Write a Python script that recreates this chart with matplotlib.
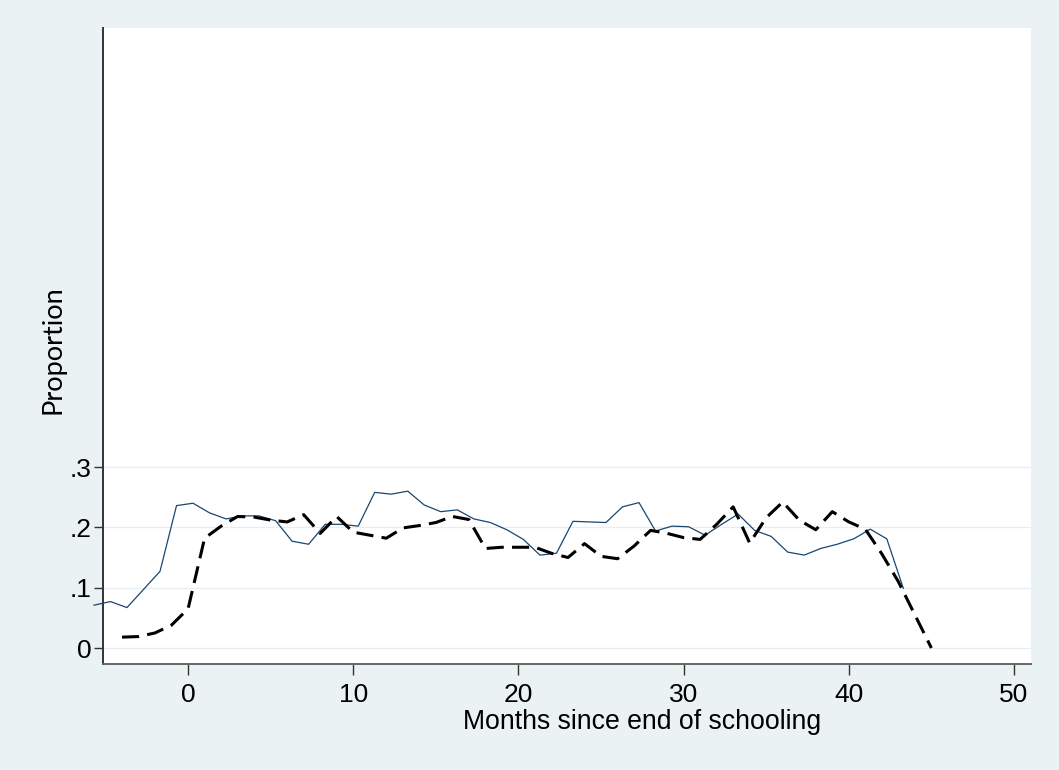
import matplotlib
matplotlib.use("Agg")
import matplotlib.pyplot as plt

# ---- data ----
months_solid = [-5.7, -4.7, -3.7, -2.7, -1.7, -0.7, 0.3, 1.3, 2.3, 3.3,
                4.3, 5.3, 6.3, 7.3, 8.3, 9.3, 10.3, 11.3, 12.3, 13.3,
                14.3, 15.3, 16.3, 17.3, 18.3, 19.3, 20.3, 21.3, 22.3, 23.3,
                24.3, 25.3, 26.3, 27.3, 28.3, 29.3, 30.3, 31.3, 32.3, 33.3,
                34.3, 35.3, 36.3, 37.3, 38.3, 39.3, 40.3, 41.3, 42.3, 43.3]
prop_solid = [0.071, 0.077, 0.067, 0.097, 0.127, 0.236, 0.240, 0.224, 0.214, 0.219,
              0.219, 0.211, 0.177, 0.172, 0.205, 0.205, 0.202, 0.258, 0.255, 0.260,
              0.237, 0.226, 0.229, 0.214, 0.208, 0.196, 0.180, 0.154, 0.157, 0.210,
              0.209, 0.208, 0.234, 0.241, 0.194, 0.202, 0.201, 0.187, 0.205, 0.222,
              0.195, 0.185, 0.159, 0.154, 0.165, 0.172, 0.181, 0.197, 0.181, 0.099]

months_dashed = [-4, -3, -2, -1, 0, 1, 2, 3, 4, 5,
                 6, 7, 8, 9, 10, 11, 12, 13, 14, 15,
                 16, 17, 18, 19, 20, 21, 22, 23, 24, 25,
                 26, 27, 28, 29, 30, 31, 32, 33, 34, 35,
                 36, 37, 38, 39, 40, 41, 42, 43, 44, 45]
prop_dashed = [0.018, 0.019, 0.025, 0.038, 0.065, 0.182, 0.202, 0.218, 0.217, 0.212,
               0.209, 0.221, 0.190, 0.218, 0.192, 0.187, 0.182, 0.199, 0.203, 0.208,
               0.218, 0.213, 0.165, 0.167, 0.167, 0.167, 0.157, 0.150, 0.173, 0.152,
               0.148, 0.169, 0.195, 0.190, 0.183, 0.180, 0.205, 0.234, 0.174, 0.216,
               0.242, 0.212, 0.196, 0.226, 0.209, 0.197, 0.156, 0.110, 0.055, 0.000]

xticks = [0, 10, 20, 30, 40, 50]
xticklabels = ["0", "10", "20", "30", "40", "50"]
yticks = [0, 0.1, 0.2, 0.3]
yticklabels = ["0", ".1", ".2", ".3"]

W, H = 1059, 770
bg = "#eaf2f3"
fig = plt.figure(figsize=(W / 100, H / 100), dpi=100, facecolor=bg)
L, R, T, B = 103, 1031, 28, 664
ax = fig.add_axes([L / W, 1 - B / H, (R - L) / W, (B - T) / H])
ax.set_facecolor("white")

ax.set_xlim(-5.15, 51.03)
ax.set_ylim(-0.0265, 1.0277)

for yv in yticks:
    ax.axhline(yv, color="#e6eef0", lw=0.9, zorder=1)

ax.plot(months_solid, prop_solid, color="#1a476f", lw=0.9, zorder=3, clip_on=False)
ax.plot(months_dashed, prop_dashed, color="black", lw=2.2, dashes=(5.6, 2.7),
        zorder=3, clip_on=False)

for s in ["top", "right"]:
    ax.spines[s].set_visible(False)
ax.spines["left"].set_color("#333333")
ax.spines["left"].set_linewidth(1.4)
ax.spines["bottom"].set_color("#666666")
ax.spines["bottom"].set_linewidth(1.4)

ax.set_xticks(xticks)
ax.set_xticklabels(xticklabels)
ax.set_yticks(yticks)
ax.set_yticklabels(yticklabels)
ax.tick_params(axis="x", direction="out", length=8, width=1.0, color="#333333",
               pad=6, labelsize=19)
ax.tick_params(axis="y", direction="out", length=6.5, width=1.0, color="#333333",
               pad=2, labelsize=19)
for lab in ax.get_xticklabels() + ax.get_yticklabels():
    lab.set_fontfamily("Liberation Sans")
    lab.set_color("black")

fig.text(642.5 / W, 1 - 722 / H, "Months since end of schooling",
         ha="center", va="center", fontsize=19.2, family="Liberation Sans")
fig.text(53 / W, 1 - 350 / H, "Proportion", rotation=90, ha="center", va="center",
         fontsize=19.5, family="Lato")

fig.savefig("out.png", dpi=100, facecolor=bg)
